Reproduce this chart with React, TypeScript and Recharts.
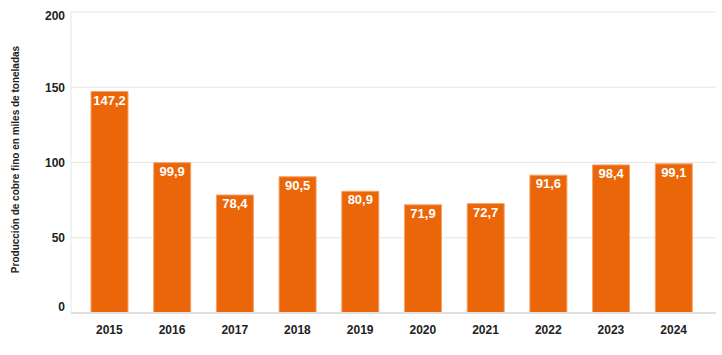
import React from "react";
import { BarChart, Bar, XAxis, YAxis, CartesianGrid, LabelList, Label } from "recharts";

const years = ["2015", "2016", "2017", "2018", "2019", "2020", "2021", "2022", "2023", "2024"];
const produccion = [147.2, 99.9, 78.4, 90.5, 80.9, 71.9, 72.7, 91.6, 98.4, 99.1];
const yTicks = [0, 50, 100, 150, 200];

const data = years.map((year, i) => ({ year, value: produccion[i] }));

const fmt = (v: number) => v.toFixed(1).replace(".", ",");
const font = "Liberation Sans, Arial, sans-serif";

const YTick = ({ x, y, payload }: any) => {
  // the top and bottom labels sit inside the plot, like the original
  const shift = payload.value === 200 ? 4 : payload.value === 0 ? -6 : 0;
  return (
    <text x={x} y={y + shift} dy="0.355em" textAnchor="end" fill="#222" fontSize={12} fontWeight={700} fontFamily={font}>
      {payload.value}
    </text>
  );
};

export default function App() {
  return (
    <div style={{ position: "absolute", left: 0, top: 0, width: 722, height: 355, background: "#fff" }}>
      <BarChart width={722} height={355} data={data} margin={{ top: 12, right: 6, bottom: 0, left: 0 }}>
        <CartesianGrid vertical={false} stroke="#e6e6e6" />
        <XAxis
          dataKey="year"
          height={42}
          padding={{ left: 7, right: 11 }}
          tickLine={false}
          tickSize={6}
          tickMargin={6}
          axisLine={{ stroke: "#e0e0e0", strokeWidth: 2 }}
          tick={{ fill: "#222", fontSize: 12, fontWeight: 700, fontFamily: font }}
        />
        <YAxis
          width={71}
          domain={[0, 200]}
          ticks={yTicks}
          tickLine={false}
          tickSize={4}
          axisLine={{ stroke: "#e6e6e6" }}
          tick={<YTick />}
        >
          <Label
            content={({ viewBox }: any) => {
              const cy = viewBox.y + viewBox.height / 2 - 3;
              return (
                <text
                  x={15}
                  y={cy}
                  transform={`rotate(-90, 15, ${cy})`}
                  textAnchor="middle"
                  dominantBaseline="central"
                  fill="#222"
                  fontSize={10}
                  fontWeight={700}
                  fontFamily={font}
                >
                  Producción de cobre fino en miles de toneladas
                </text>
              );
            }}
          />
        </YAxis>
        <Bar dataKey="value" barSize={37} fill="#EB6608" stroke="#F5A26A" strokeWidth={1} isAnimationActive={false}>
          <LabelList
            dataKey="value"
            position="insideTop"
            offset={4}
            formatter={(v: any) => fmt(Number(v))}
            style={{ fill: "#fff", fontSize: 13, fontWeight: 700, fontFamily: font }}
          />
        </Bar>
      </BarChart>
    </div>
  );
}
